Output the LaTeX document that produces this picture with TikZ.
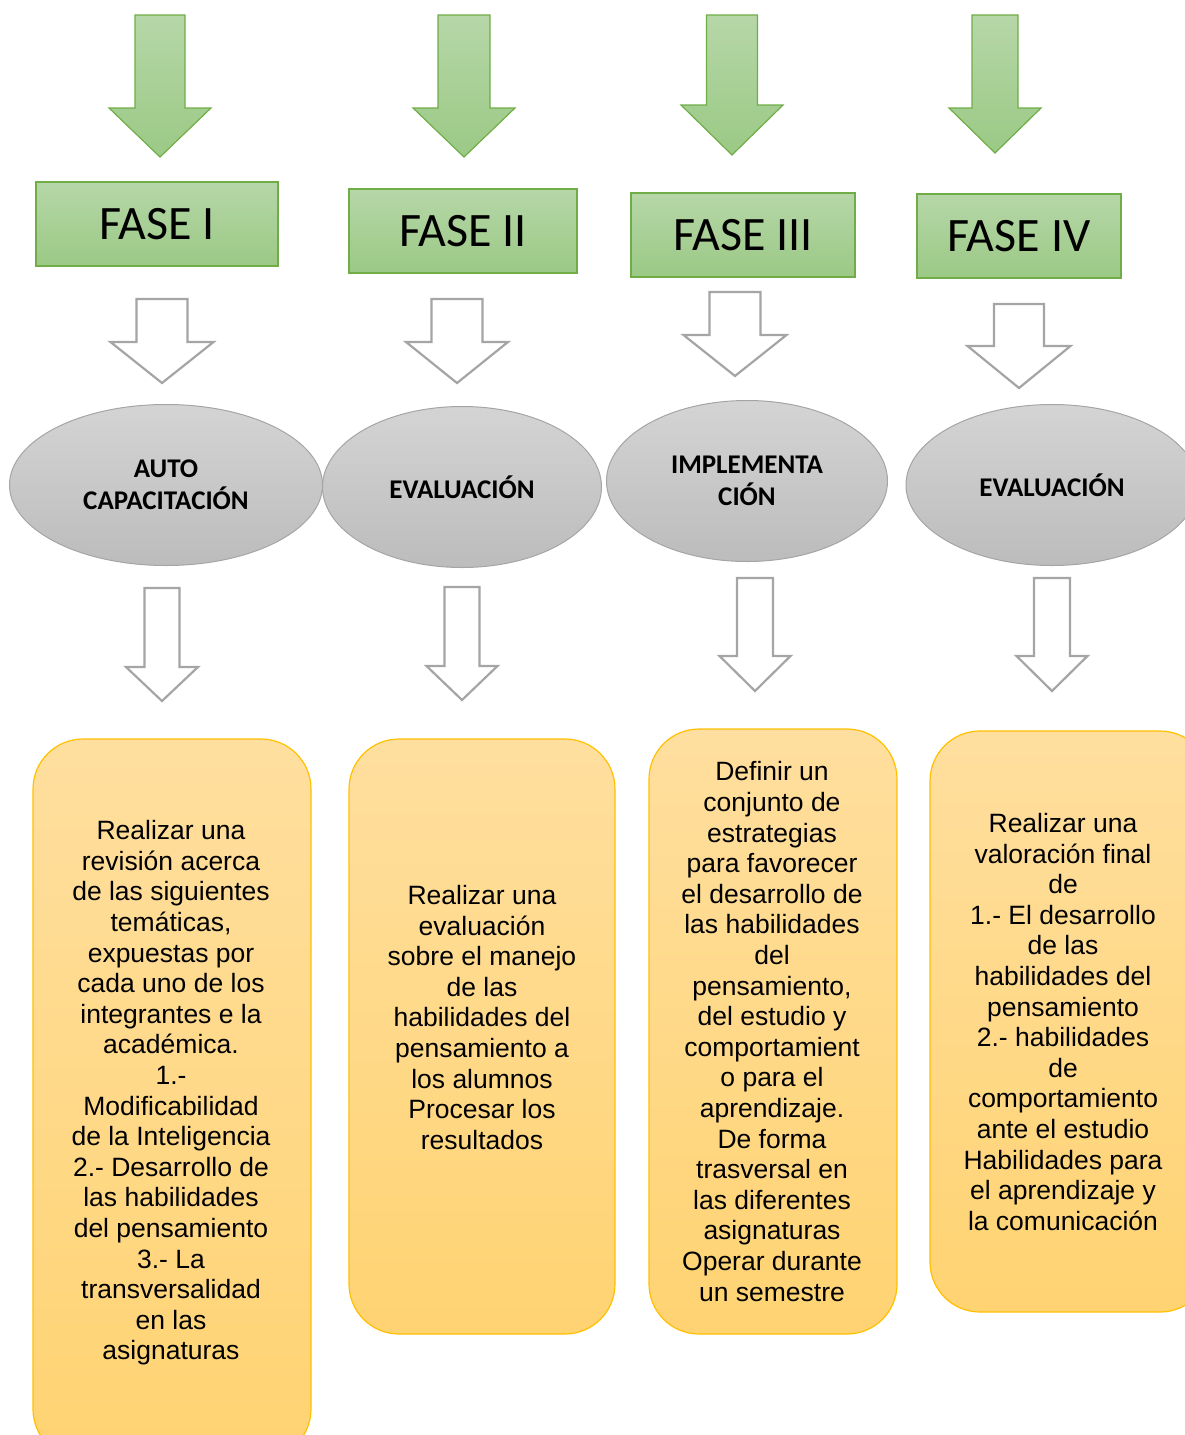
\documentclass[tikz,border=0pt]{standalone}
\usepackage{fontspec}
\setmainfont{Liberation Sans}
\newfontfamily\calibri{Carlito}
\usetikzlibrary{shapes.geometric}
\definecolor{gtop}{HTML}{B6D7A8}
\definecolor{gbot}{HTML}{9BC985}
\definecolor{gline}{HTML}{70AD47}
\definecolor{etop}{HTML}{D4D4D4}
\definecolor{ebot}{HTML}{BCBCBC}
\definecolor{eline}{HTML}{A5A5A5}
\definecolor{otop}{HTML}{FFDF9F}
\definecolor{obot}{HTML}{FFD372}
\definecolor{oline}{HTML}{FFC000}
\newcommand{\blkarrow}[7]{%
  \path[#1] (#2-#4,#3) -- (#2+#4,#3) -- (#2+#4,#6) -- (#2+#5,#6) -- (#2,#7)
    -- (#2-#5,#6) -- (#2-#4,#6) -- cycle;}
\tikzset{
  greenarrow/.style={draw=gline, line width=1.2pt, top color=gtop, bottom color=gbot, line join=miter},
  grayarrow/.style={draw=eline, line width=2.2pt, fill=white, line join=miter},
  fasebox/.style={draw=gline, line width=1.2pt, top color=gtop, bottom color=gbot,
    minimum height=84pt, inner sep=0pt, font=\calibri\fontsize{48}{52}\selectfont},
  phase/.style={ellipse, draw=eline, line width=1pt, top color=etop, bottom color=ebot,
    minimum height=161pt, inner sep=0pt, align=center,
    font=\calibri\bfseries\fontsize{27}{32}\selectfont},
  taskbox/.style={draw=oline, line width=1.2pt, top color=otop, bottom color=obot,
    rounded corners=50pt, inner sep=0pt},
  tasktext/.style={align=center, inner sep=0pt, font=\fontsize{26.5}{30.6}\selectfont}
}
\begin{document}
\begin{tikzpicture}[x=1pt,y=-1pt]
\useasboundingbox (0,0) rectangle (1185,1435);
\clip (0,0) rectangle (1185,1435);
% green arrows
\blkarrow{greenarrow}{160}{15}{25}{51}{108}{157}
\blkarrow{greenarrow}{464}{15}{26}{51}{108}{157}
\blkarrow{greenarrow}{732}{15}{25.5}{51}{105}{155}
\blkarrow{greenarrow}{995}{15}{23}{46}{108}{153}
% phase boxes
\node[fasebox, minimum width=242pt] (f1) at (157,224) {FASE I};
\node[fasebox, minimum width=228pt] (f2) at (463,231) {FASE II};
\node[fasebox, minimum width=224pt] (f3) at (743,235) {FASE III};
\node[fasebox, minimum width=204pt] (f4) at (1019,236) {FASE IV};
% gray arrows row 1
\blkarrow{grayarrow}{162}{299}{25.5}{51.5}{342}{383}
\blkarrow{grayarrow}{457}{299}{25.5}{51}{342}{383}
\blkarrow{grayarrow}{735}{292}{25.5}{51.5}{335}{376}
\blkarrow{grayarrow}{1019}{304}{25}{51.5}{346}{388}
% ellipses
\node[phase, minimum width=313pt] (e1) at (166,485) {AUTO\\CAPACITACIÓN};
\node[phase, minimum width=279pt] (e2) at (462,487) {EVALUACIÓN};
\node[phase, minimum width=281pt] (e3) at (747,481) {IMPLEMENTA\\CIÓN};
\node[phase, minimum width=292pt] (e4) at (1052,485) {EVALUACIÓN};
% gray arrows row 2
\blkarrow{grayarrow}{162}{588}{17.5}{36}{667}{701}
\blkarrow{grayarrow}{462}{587}{17.5}{35.5}{666}{700}
\blkarrow{grayarrow}{755}{578}{18}{35.5}{656}{691}
\blkarrow{grayarrow}{1052}{578}{18}{35.5}{656}{691}
% task boxes
\node[taskbox, minimum width=278pt, minimum height=720pt] (b1) at (172,1099) {};
\node[taskbox, minimum width=266pt, minimum height=595pt] (b2) at (482,1036.5) {};
\node[taskbox, minimum width=248pt, minimum height=605pt] (b3) at (773,1031.5) {};
\node[taskbox, minimum width=280pt, minimum height=581pt] (b4) at (1070,1021.5) {};
\node[tasktext] (t1) at (171,1093) {Realizar una\\revisión acerca\\de las siguientes\\temáticas,\\expuestas por\\cada uno de los\\integrantes e la\\académica.\\1.-\\Modificabilidad\\de la Inteligencia\\2.- Desarrollo de\\las habilidades\\del pensamiento\\3.- La\\transversalidad\\en las\\asignaturas};
\node[tasktext] (t2) at (482,1017.5) {Realizar una\\evaluación\\sobre el manejo\\de las\\habilidades del\\pensamiento a\\los alumnos\\Procesar los\\resultados};
\node[tasktext] (t3) at (772,1031.5) {Definir un\\conjunto de\\estrategias\\para favorecer\\el desarrollo de\\las habilidades\\del\\pensamiento,\\del estudio y\\comportamient\\o para el\\aprendizaje.\\De forma\\trasversal en\\las diferentes\\asignaturas\\Operar durante\\un semestre};
\node[tasktext] (t4) at (1063,1022) {Realizar una\\valoración final\\de\\1.- El desarrollo\\de las\\habilidades del\\pensamiento\\2.- habilidades\\de\\comportamiento\\ante el estudio\\Habilidades para\\el aprendizaje y\\la comunicación};
\end{tikzpicture}
\end{document}
